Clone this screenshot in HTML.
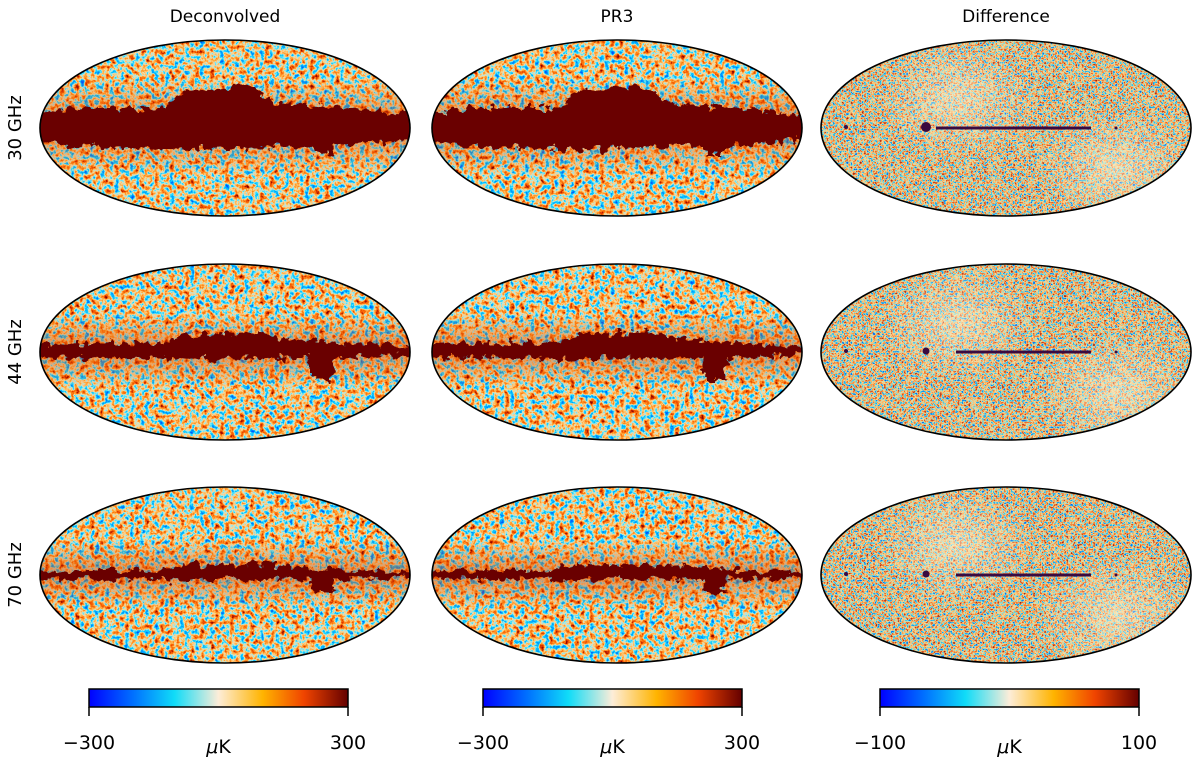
<!DOCTYPE html>
<html><head><meta charset="utf-8"><style>
body{margin:0;background:#fff;}
svg{display:block;font-family:"DejaVu Sans","Liberation Sans",sans-serif;}
</style></head><body>
<svg id="fig" width="1200" height="759" viewBox="0 0 1200 759">
<defs>
<linearGradient id="cmap" x1="0" x2="1" y1="0" y2="0">
<stop offset="0" stop-color="#0000ff"/><stop offset="0.17" stop-color="#0070ff"/>
<stop offset="0.33" stop-color="#10dcf8"/><stop offset="0.5" stop-color="#fdedd8"/>
<stop offset="0.67" stop-color="#ffb400"/><stop offset="0.83" stop-color="#f04400"/>
<stop offset="1" stop-color="#640000"/></linearGradient>
<filter id="cmb" x="0" y="0" width="100%" height="100%" color-interpolation-filters="sRGB">
<feTurbulence type="fractalNoise" baseFrequency="0.2" numOctaves="4" seed="3"/>
<feComponentTransfer><feFuncR type="linear" slope="1.35" intercept="-0.17"/></feComponentTransfer>
<feColorMatrix type="matrix" values="1 0 0 0 0 1 0 0 0 0 1 0 0 0 0 0 0 0 0 1"/>
<feComponentTransfer>
<feFuncR type="table" tableValues="0 0 0 0.1 0.65 1 1 1 0.95 0.75 0.5"/>
<feFuncG type="table" tableValues="0.3 0.5 0.68 0.84 0.92 0.84 0.68 0.5 0.32 0.12 0"/>
<feFuncB type="table" tableValues="1 1 1 1 0.93 0.6 0.25 0.08 0 0 0"/>
</feComponentTransfer></filter>
<filter id="diff" x="0" y="0" width="100%" height="100%" color-interpolation-filters="sRGB">
<feTurbulence type="fractalNoise" baseFrequency="0.45" numOctaves="2" seed="7"/>
<feComponentTransfer><feFuncR type="linear" slope="1.8" intercept="-0.4"/></feComponentTransfer>
<feColorMatrix type="matrix" values="1 0 0 0 0 1 0 0 0 0 1 0 0 0 0 0 0 0 0 1"/>
<feComponentTransfer>
<feFuncR type="table" tableValues="0.05 0.05 0.15 0.5 0.9 1 1 0.95 0.8 0.6"/>
<feFuncG type="table" tableValues="0.35 0.55 0.78 0.86 0.88 0.78 0.6 0.45 0.3 0.15"/>
<feFuncB type="table" tableValues="0.95 0.95 0.92 0.85 0.7 0.45 0.25 0.2 0.15 0.1"/>
</feComponentTransfer></filter>
<filter id="rag" x="-5%" y="-50%" width="110%" height="200%" color-interpolation-filters="sRGB">
<feTurbulence type="fractalNoise" baseFrequency="0.12" numOctaves="3" seed="11" result="t"/>
<feDisplacementMap in="SourceGraphic" in2="t" scale="16" xChannelSelector="R" yChannelSelector="G"/>
</filter>
<radialGradient id="glow"><stop offset="0" stop-color="#fff6d8" stop-opacity="0.5"/><stop offset="1" stop-color="#fff6d8" stop-opacity="0"/></radialGradient>
<linearGradient id="halo" x1="0" x2="0" y1="0" y2="1"><stop offset="0" stop-color="#e05000" stop-opacity="0"/><stop offset="0.5" stop-color="#d04000" stop-opacity="0.5"/><stop offset="1" stop-color="#e05000" stop-opacity="0"/></linearGradient>
</defs>
<g id="maps"></g>
<g id="bars"></g>
</svg>
<script>
const colTitles=["Deconvolved","PR3","Difference"];
const rowLabels=["30 GHz","44 GHz","70 GHz"];
const barMin=[-300,-300,-100];
const barMax=[300,300,100];
// galactic band half-thickness above/below (px) per row, central bulge, and side blob depth
const bandUp=[20,9,5];
const bandDown=[18,6,4];
const bulgeUp=[38,18,10];
const blobDown=[8,22,14];
const lineStart=[-70,-50,-50];
const NS="http://www.w3.org/2000/svg";
const colX=[225,617,1006], rowY=[128,352,575], RX=185, RY=88;
const maps=document.getElementById('maps'), bars=document.getElementById('bars');
function mk(t,a,p){const e=document.createElementNS(NS,t);for(const k in a)e.setAttribute(k,a[k]);(p||maps).appendChild(e);return e;}
let id=0;
for(let c=0;c<3;c++){
  const t=mk('text',{x:colX[c],y:22,'text-anchor':'middle','font-size':17});t.textContent=colTitles[c];
  
  
}
for(let r=0;r<3;r++){
  const t=mk('text',{x:0,y:0,'text-anchor':'middle','font-size':18,transform:`translate(21,${rowY[r]}) rotate(-90)`});t.textContent=rowLabels[r];
  
  
  for(let c=0;c<3;c++){
    const cx=colX[c],cy=rowY[r];id++;
    const cp=mk('clipPath',{id:'cp'+id});mk('ellipse',{cx,cy,rx:RX,ry:RY},cp);
    const g=mk('g',{'clip-path':`url(#cp${id})`});
    
    
    mk('rect',{x:cx-RX,y:cy-RY,width:2*RX,height:2*RY,filter:c<2?'url(#cmb)':'url(#diff)'},g);
    if(c<2){
      const u=bandUp[r],d=bandDown[r],b=bulgeUp[r],bd=blobDown[r];
      mk('rect',{x:cx-RX,y:cy-u-30,width:2*RX,height:u+d+60,fill:'url(#halo)'},g);
      const pts=[[cx-RX-10,cy-u*0.7],[cx-150,cy-u],[cx-60,cy-u],[cx-40,cy-b],[cx+30,cy-b*1.1],[cx+50,cy-u-5],[cx+120,cy-u],[cx+RX+10,cy-u*0.6],
        [cx+RX+10,cy+d*0.6],[cx+110,cy+d],[cx+108,cy+d+bd],[cx+88,cy+d+bd],[cx+85,cy+d],[cx-40,cy+d*1.2],[cx-150,cy+d],[cx-RX-10,cy+d*0.7]];
      const band=mk('polygon',{points:pts.map(p=>p.join(',')).join(' '),fill:'#6a0000',filter:'url(#rag)'},g);
      
      
    } else {
      mk('ellipse',{cx:cx-50,cy:cy-30,rx:80,ry:60,fill:'url(#glow)'},g);
      mk('ellipse',{cx:cx+110,cy:cy+40,rx:80,ry:60,fill:'url(#glow)'},g);
      const ln=mk('rect',{x:cx+lineStart[r],y:cy-1.5,width:155-lineStart[r]-70,height:3,fill:'#3a0a40'},g);
      
      
      mk('circle',{cx:cx-80,cy:cy-1,r:r==0?5:3.5,fill:'#3a0a40'},g);
      mk('circle',{cx:cx-160,cy:cy-1,r:2,fill:'#3a0a40'},g);
      mk('circle',{cx:cx+110,cy:cy,r:1.5,fill:'#3a0a40'},g);
    }
    mk('ellipse',{cx,cy,rx:RX,ry:RY,fill:'none',stroke:'#000','stroke-width':1.6});
  }
}
const barX=[89,483,880],BW=259;
for(let c=0;c<3;c++){
  const x=barX[c];
  const rct=mk('rect',{x,y:689,width:BW,height:18,fill:'url(#cmap)',stroke:'#000','stroke-width':1.5},bars);
  
  
  mk('line',{x1:x,y1:707,x2:x,y2:716,stroke:'#000','stroke-width':1.5},bars);
  mk('line',{x1:x+BW,y1:707,x2:x+BW,y2:716,stroke:'#000','stroke-width':1.5},bars);
  const l=mk('text',{x,y:749,'text-anchor':'middle','font-size':19},bars);l.textContent='\u2212'+Math.abs(barMin[c]);
  
  
  const h=mk('text',{x:x+BW,y:749,'text-anchor':'middle','font-size':19},bars);h.textContent=String(barMax[c]);
  
  
  const u=mk('text',{x:x+BW/2,y:753,'text-anchor':'middle','font-size':19},bars);u.innerHTML='<tspan font-style="italic">\u03bc</tspan>K';
  
  
}
</script>
</body></html>
